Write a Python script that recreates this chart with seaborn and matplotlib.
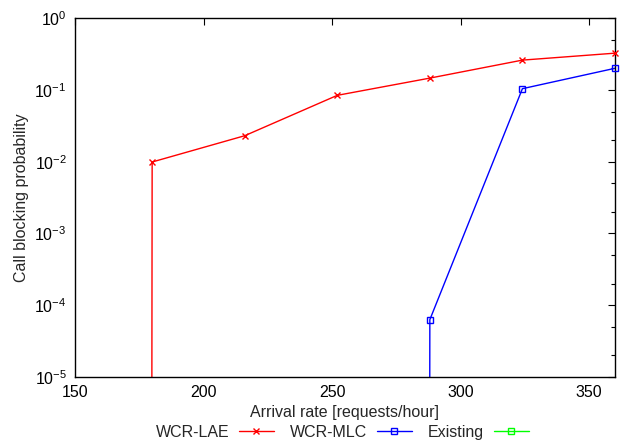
import matplotlib
matplotlib.use("Agg")
import matplotlib.pyplot as plt
import matplotlib.ticker as mticker
from matplotlib.lines import Line2D
import seaborn as sns
import pandas as pd

arrival = [144, 180, 216, 252, 288, 324, 360]
wcr_lae = [0, 0.0099, 0.023, 0.084, 0.146, 0.26, 0.325]
wcr_mlc = [0, 0, 0, 0, 6.3e-5, 0.104, 0.20]
existing = [0, 0, 0, 0, 0, 0, 0]
series_names = ["WCR-LAE", "WCR-MLC", "Existing"]
x_ticks = [150, 200, 250, 300, 350]

sns.set_theme(style="white")
plt.rcParams['font.family'] = ['Liberation Sans', 'DejaVu Sans']
plt.rcParams['mathtext.fontset'] = 'custom'
plt.rcParams['mathtext.rm'] = 'Liberation Sans'
plt.rcParams['mathtext.it'] = 'Liberation Sans'
plt.rcParams['font.size'] = 11

fig = plt.figure(figsize=(6.22, 4.42), dpi=100)
ax = fig.add_axes([0.1206, 0.147, 0.8681, 0.812])
ax.set_yscale('log', nonpositive='clip')

colors = ['#ff0000', '#0000ff', '#00ff00']
markers = ['x', 's', 's']
handles = []
for name, vals, c, m in zip(series_names, [wcr_lae, wcr_mlc, existing], colors, markers):
    df = pd.DataFrame({"x": arrival, "y": vals})
    sns.lineplot(data=df, x="x", y="y", ax=ax, color=c, linewidth=1.0, legend=False)
    pos = df[df["y"] > 0]
    if len(pos):
        ax.plot(pos["x"], pos["y"], linestyle='none', marker=m, markersize=5,
                markerfacecolor='none', markeredgecolor=c, markeredgewidth=1.0,
                clip_on=False, zorder=5)
    handles.append(Line2D([], [], color=c, linewidth=1.0, marker=m, markersize=5,
                          markerfacecolor='none', markeredgecolor=c, markeredgewidth=1.0))

ax.set_xlim(150, 360)
ax.set_ylim(1e-5, 1)
ax.set_xticks(x_ticks)
ax.yaxis.set_major_locator(mticker.LogLocator(base=10, numticks=10))
ax.yaxis.set_minor_locator(mticker.LogLocator(base=10, subs=[2, 5], numticks=10))
ax.yaxis.set_minor_formatter(mticker.NullFormatter())
ax.yaxis.set_major_formatter(mticker.LogFormatterMathtext())

ax.tick_params(axis='both', which='both', direction='in', top=True, right=True,
               labelsize=11.5, colors='black', pad=6)
ax.tick_params(axis='both', which='major', length=5, width=0.8)
ax.tick_params(axis='y', which='minor', length=3, width=0.8)
ax.tick_params(axis='x', which='minor', bottom=False, top=False)
for s in ax.spines.values():
    s.set_color('black')
    s.set_linewidth(1.0)

ax.set_xlabel("Arrival rate [requests/hour]", fontsize=11.5, labelpad=3)
ax.set_ylabel("Call blocking probability", fontsize=11.5, labelpad=4)

fig.legend(handles, series_names, loc='center', bbox_to_anchor=(0.55, 0.022), ncol=3,
           frameon=False, markerfirst=False, handlelength=2.2, handletextpad=0.6,
           columnspacing=1.0, fontsize=11.5, borderaxespad=0, borderpad=0)

fig.savefig("out.png", dpi=100)
